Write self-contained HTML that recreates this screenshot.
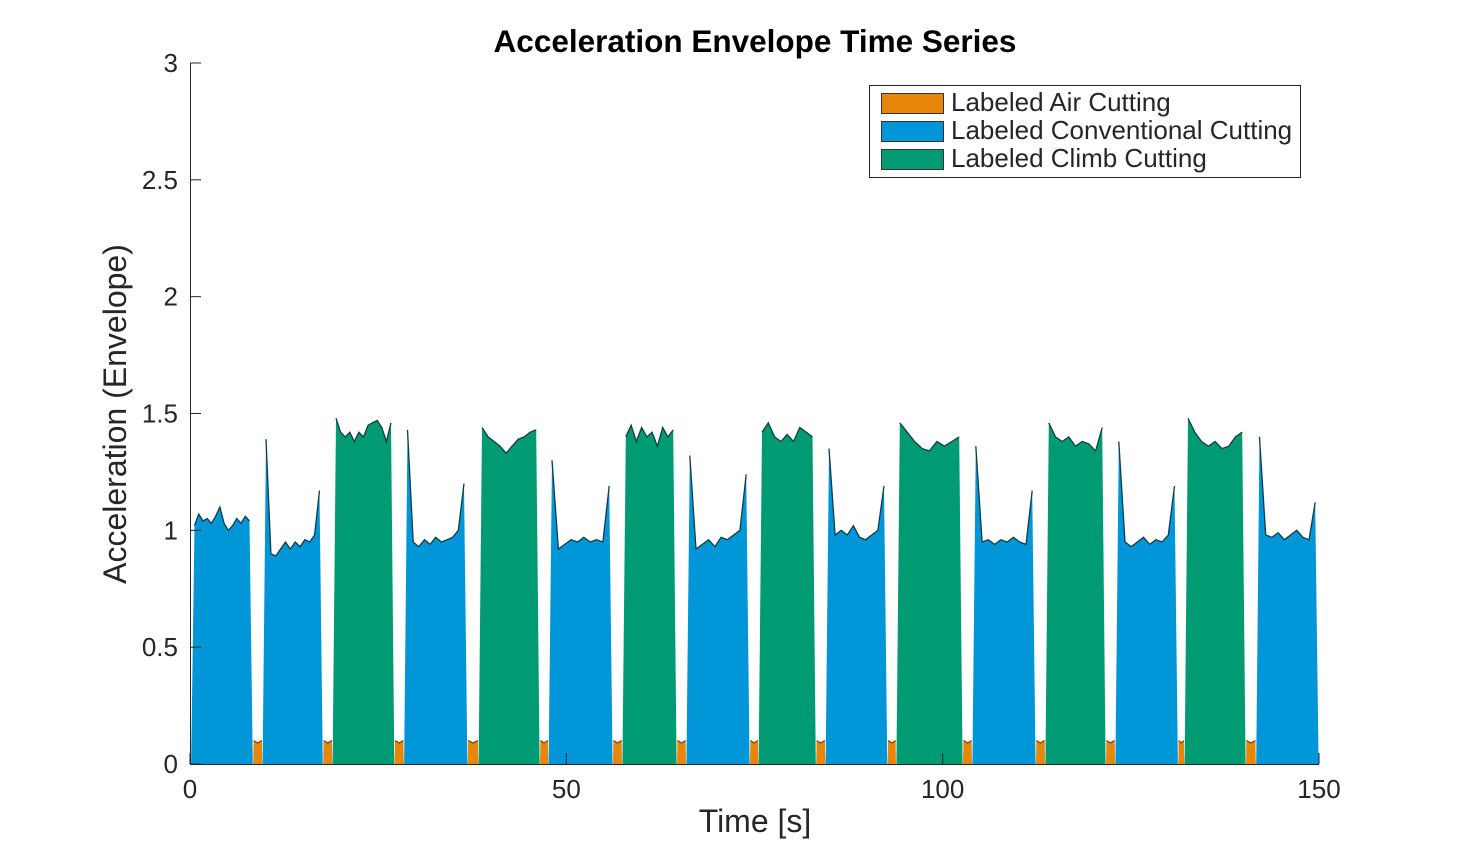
<!DOCTYPE html>
<html><head><meta charset="utf-8"><style>
body{margin:0;background:#fff;}
svg text{font-family:"Liberation Sans",Arial,sans-serif;fill:#262626;}
</style></head><body>
<svg id="chart" width="1458" height="858" xmlns="http://www.w3.org/2000/svg">
<text x="755" y="52" text-anchor="middle" font-size="31.5" font-weight="bold" style="fill:#000">Acceleration Envelope Time Series</text>
<g id="plot"></g>
<g id="axes"></g>
<text x="755" y="832" text-anchor="middle" font-size="32">Time [s]</text>
<text transform="translate(126,414) rotate(-90)" text-anchor="middle" font-size="32">Acceleration (Envelope)</text>
<g>
<rect x="869.5" y="85.5" width="431" height="92" fill="#fff" stroke="#262626" stroke-width="1"/>
<g><rect x="881.5" y="93.5" width="62" height="20" fill="#E8860B" stroke="#333"/><text x="951" y="111" font-size="26">Labeled Air Cutting</text></g>
<g><rect x="881.5" y="121.5" width="62" height="20" fill="#0096D8" stroke="#333"/><text x="951" y="139" font-size="26">Labeled Conventional Cutting</text></g>
<g><rect x="881.5" y="149.5" width="62" height="20" fill="#009B72" stroke="#333"/><text x="951" y="167" font-size="26">Labeled Climb Cutting</text></g>
</g>
</svg>
<script>
const segTypes=["conv","air","conv","air","climb","air","conv","air","climb","air","conv","air","climb","air","conv","air","climb","air","conv","air","climb","air","conv","air","climb","air","conv","air","climb","air","conv"];
const segStarts=[0.1,8.4,9.6,17.7,18.9,27.2,28.4,36.9,38.3,46.5,47.6,56.2,57.4,64.7,65.9,74.4,75.5,83.2,84.4,92.7,93.8,102.7,103.9,112.4,113.6,121.7,122.9,131.3,132.1,140.3,141.6];
const segEnds=[8.4,9.6,17.7,18.9,27.2,28.4,36.9,38.3,46.5,47.6,56.2,57.4,64.7,65.9,74.4,75.5,83.2,84.4,92.7,93.8,102.7,103.9,112.4,113.6,121.7,122.9,131.3,132.1,140.3,141.6,150];
const airLevel=[0.1,0.09,0.1];
const segLevels=[
[1.02,1.07,1.04,1.05,1.03,1.06,1.10,1.03,1.00,1.02,1.05,1.03,1.06,1.04],airLevel,
[1.39,0.9,0.89,0.92,0.95,0.92,0.95,0.93,0.96,0.95,0.98,1.17],airLevel,
[1.48,1.42,1.40,1.42,1.38,1.42,1.40,1.45,1.46,1.47,1.44,1.38,1.46],airLevel,
[1.43,0.95,0.93,0.96,0.94,0.97,0.95,0.96,0.97,1.0,1.2],airLevel,
[1.44,1.40,1.38,1.36,1.33,1.36,1.39,1.40,1.42,1.43],airLevel,
[1.3,0.92,0.94,0.96,0.95,0.97,0.95,0.96,0.95,1.19],airLevel,
[1.40,1.45,1.38,1.44,1.40,1.42,1.36,1.44,1.40,1.43],airLevel,
[1.32,0.92,0.94,0.96,0.93,0.97,0.96,0.98,1.0,1.24],airLevel,
[1.42,1.46,1.40,1.38,1.41,1.38,1.44,1.42,1.40],airLevel,
[1.35,0.98,1.0,0.98,1.02,0.97,0.96,0.98,1.0,1.19],airLevel,
[1.46,1.42,1.38,1.35,1.34,1.38,1.36,1.38,1.40],airLevel,
[1.36,0.95,0.96,0.94,0.96,0.95,0.97,0.95,0.94,1.17],airLevel,
[1.46,1.40,1.38,1.40,1.36,1.38,1.37,1.34,1.44],airLevel,
[1.38,0.95,0.93,0.95,0.97,0.94,0.96,0.95,0.98,1.19],airLevel,
[1.48,1.42,1.38,1.36,1.38,1.35,1.36,1.40,1.42],airLevel,
[1.40,0.98,0.97,0.99,0.96,0.98,1.0,0.97,0.96,1.12]];
const xTicks=[0,50,100,150];
const yTicks=[0,0.5,1,1.5,2,2.5,3];
const yTickLabels=["0","0.5","1","1.5","2","2.5","3"];
const colors={air:"#E8860B",conv:"#0096D8",climb:"#009B72"};
const X=t=>190+t*(1319-190)/150;
const Y=v=>764-v*(764-63)/3;
const NS="http://www.w3.org/2000/svg";
const plot=document.getElementById('plot'),axes=document.getElementById('axes');
function mk(tag,attrs,parent){const e=document.createElementNS(NS,tag);for(const k in attrs)e.setAttribute(k,attrs[k]);parent.appendChild(e);return e;}
const order=[...segTypes.keys()].sort((a,b)=>(segTypes[a]==="air"?0:1)-(segTypes[b]==="air"?0:1));
order.forEach(i=>{
 const s=segStarts[i],e=segEnds[i],lv=segLevels[i],air=segTypes[i]==="air";
 const r=air?0.05:0.45;const a=s+(air?0:0.05),b=e-(air?0:0.05);
 const p0=a+r,p1=b-r;let pts=[[X(a),Y(0)]];
 lv.forEach((v,k)=>{const t=lv.length>1?p0+(p1-p0)*k/(lv.length-1):p0;pts.push([X(t),Y(v)]);});
 pts.push([X(b),Y(0)]);
 const d=pts.map(p=>p[0].toFixed(1)+","+p[1].toFixed(1)).join(" ");
 const poly=mk('polygon',{points:d,fill:colors[segTypes[i]],stroke:"none"},plot);
 
 
 const line=mk('polyline',{points:pts.slice(1,-1).map(p=>p[0].toFixed(1)+","+p[1].toFixed(1)).join(" "),fill:"none",stroke:air?"#7a4a10":"#123c44","stroke-width":1.3},plot);
 
 
});
mk('line',{x1:190,y1:764.5,x2:1319,y2:764.5,stroke:"#262626","stroke-width":1},axes);
mk('line',{x1:190.5,y1:63,x2:190.5,y2:764,stroke:"#262626","stroke-width":1},axes);
xTicks.forEach(t=>{mk('line',{x1:X(t),y1:764,x2:X(t),y2:753,stroke:"#262626"},axes);
 const tx=mk('text',{x:X(t),y:798,"text-anchor":"middle","font-size":26},axes);tx.textContent=t;
 
 });
yTicks.forEach((v,k)=>{mk('line',{x1:190,y1:Y(v),x2:201,y2:Y(v),stroke:"#262626"},axes);
 const tx=mk('text',{x:178,y:Y(v)+9,"text-anchor":"end","font-size":26},axes);tx.textContent=yTickLabels[k];
 
 });
</script>
</body></html>
